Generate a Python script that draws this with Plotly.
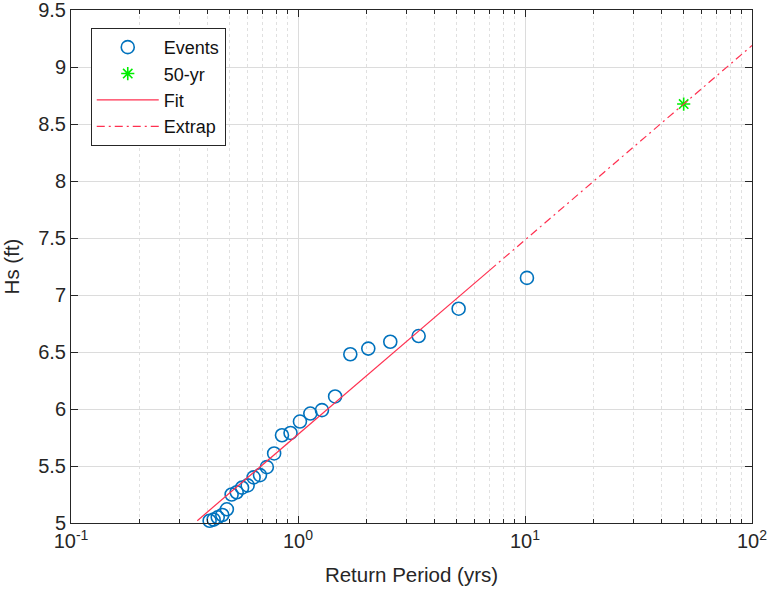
import math
import plotly.graph_objects as go

# Ranked storm events: return period (yrs) and significant wave height (ft)
return_period = [10.2, 5.1, 3.4, 2.55, 2.04, 1.7, 1.457, 1.275, 1.133, 1.02,
                 0.927, 0.85, 0.785, 0.729, 0.68, 0.6375, 0.6, 0.567, 0.537, 0.51,
                 0.486, 0.464, 0.443, 0.425, 0.408]
hs_ft = [7.15, 6.88, 6.64, 6.59, 6.53, 6.48, 6.11, 5.99, 5.96, 5.89,
         5.79, 5.77, 5.61, 5.49, 5.42, 5.40, 5.33, 5.31, 5.27, 5.25,
         5.12, 5.07, 5.05, 5.03, 5.02]

# Log-linear fit Hs = a + b*log10(T)
fit_a = 5.777
fit_b = 1.7056
fit_range = [0.36, 7.0]
extrap_range = [7.0, 100.0]

# 50-year design value
design_T = [50]
design_hs = [8.675]

x_tick_vals = [0.1, 1, 10, 100]
x_tick_text = ["10<sup>-1</sup>", "10<sup>0</sup>", "10<sup>1</sup>", "10<sup>2</sup>"]
x_minor_vals = [m * d for d in (0.1, 1, 10) for m in range(2, 10)]
y_tick_vals = [5, 5.5, 6, 6.5, 7, 7.5, 8, 8.5, 9, 9.5]


def fit_line(t_vals):
    return [fit_a + fit_b * math.log10(t) for t in t_vals]


font_family = "Liberation Sans, Arial, sans-serif"
axis_col = "#262626"
red = "#ff3050"

fig = go.Figure()
fig.add_trace(go.Scatter(
    x=return_period, y=hs_ft, mode="markers", name="Events",
    marker=dict(symbol="circle-open", size=13, color="#0072BD",
                line=dict(width=1.6, color="#0072BD")),
    cliponaxis=False,
))
fig.add_trace(go.Scatter(
    x=design_T, y=design_hs, mode="markers", name="50-yr",
    marker=dict(symbol="asterisk-open", size=11, color="#00ee00",
                line=dict(width=1.6, color="#00ee00")),
))
fig.add_trace(go.Scatter(
    x=fit_range, y=fit_line(fit_range), mode="lines", name="Fit",
    line=dict(color=red, width=1.2),
))
fig.add_trace(go.Scatter(
    x=extrap_range, y=fit_line(extrap_range), mode="lines", name="Extrap",
    line=dict(color=red, width=1.2, dash="8px,4px,2px,4px"),
))

fig.update_layout(
    width=768, height=594,
    margin=dict(l=71, r=16, t=10, b=71),
    paper_bgcolor="white", plot_bgcolor="white",
    font=dict(family=font_family, size=19, color=axis_col),
    showlegend=True,
    legend=dict(
        x=0.029, y=0.965, xanchor="left", yanchor="top",
        bgcolor="white", bordercolor=axis_col, borderwidth=1,
        font=dict(size=18, color="#111111"),
        itemwidth=62, tracegroupgap=0,
    ),
)
fig.update_xaxes(
    type="log", range=[-1, 2], automargin=False,
    tickvals=x_tick_vals, ticktext=x_tick_text,
    ticks="inside", ticklen=7, tickcolor=axis_col,
    showline=True, linecolor=axis_col, linewidth=1, mirror="ticks",
    showgrid=True, gridcolor="#dcdcdc", gridwidth=1,
    minor=dict(tickvals=x_minor_vals, ticks="inside", ticklen=4,
               tickcolor=axis_col, showgrid=True, gridcolor="#e0e0e0",
               griddash="dot"),
    zeroline=False, ticklabeloverflow="allow",
    title=dict(text="Return Period (yrs)", font=dict(size=20.5), standoff=16),
    tickfont=dict(size=20),
)
fig.update_yaxes(
    range=[5, 9.5000001], tickvals=y_tick_vals, automargin=False,
    ticks="inside", ticklen=7, tickcolor=axis_col,
    showline=True, linecolor=axis_col, linewidth=1, mirror="ticks",
    showgrid=True, gridcolor="#dcdcdc", gridwidth=1,
    zeroline=False, ticklabeloverflow="allow",
    title=dict(text="Hs (ft)", font=dict(size=20.5), standoff=14),
    tickfont=dict(size=20),
)

fig.write_html("out.html")
